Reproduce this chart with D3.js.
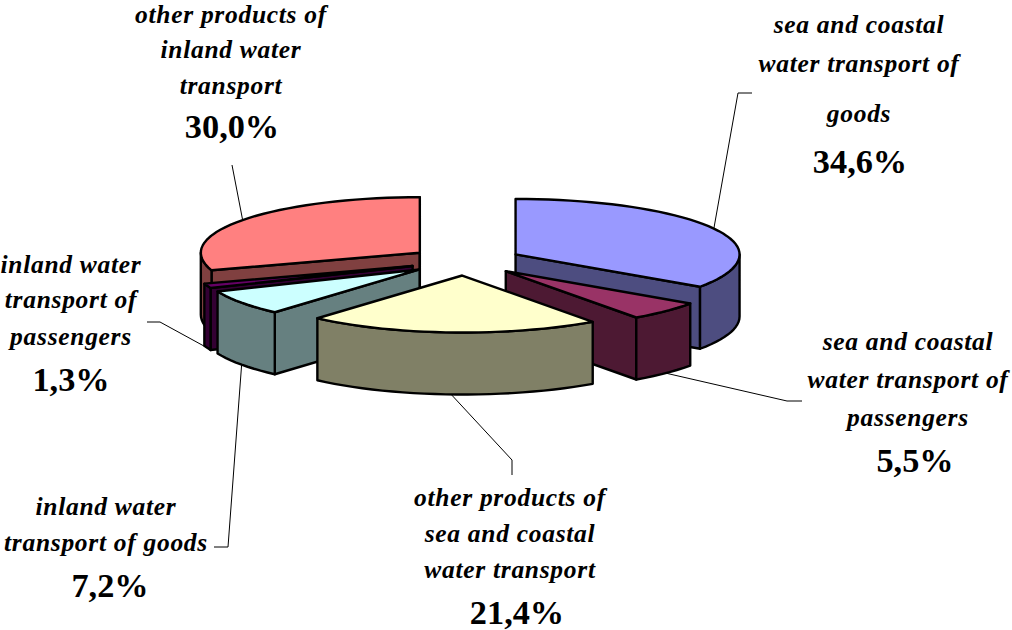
<!DOCTYPE html>
<html><head><meta charset="utf-8">
<script src="https://cdn.jsdelivr.net/npm/d3@7"></script>
<style>html,body{margin:0;padding:0;background:#fff}svg{display:block}
text{font-family:"Liberation Serif","Times New Roman",serif;fill:#000;text-anchor:middle}
.n{font-weight:700;font-style:italic;font-size:25.5px;letter-spacing:.7px}.p{font-weight:700;font-size:34.3px}</style>
</head><body><svg width="1012" height="630"></svg>
<script>
// data, in pie order (clockwise from 12 o'clock)
const categories = ["sea and coastal water transport of goods","sea and coastal water transport of passengers","other products of sea and coastal water transport","inland water transport of goods","inland water transport of passengers","other products of inland water transport"];
const values = [34.6,5.5,21.4,7.2,1.3,30.0];
const valueLabels = ["34,6%","5,5%","21,4%","7,2%","1,3%","30,0%"];
const nameLines = [["sea and coastal","water transport of","goods"],["sea and coastal","water transport of","passengers"],["other products of","sea and coastal","water transport"],["inland water","transport of goods"],["inland water","transport of","passengers"],["other products of","inland water","transport"]];
const topColors = ["#9999FF","#993366","#FFFFCC","#CCFFFF","#660066","#FF8080"];
const sideColors = ["#4D4D80","#4D1933","#808066","#668080","#330033","#804040"];

// layout
const cx=465, cy=261, rxLeft=219, rxRight=224, ryBack=55.5, ryFront=57, depth=62, explode=0.255;
const nameX=[859,908,510,106,71,231];
const nameY=[[33,72,122],[350,388,426],[506,542,578],[515,551],[273,308,345],[23,58,94]];
const pctX=[860,915,517,110,71,232];
const pctY=[173,472,624,597,391,138];
const leaders=[[[738,93],[752,93]],[[787,401],[802,401]],[[512,460],[512,475]],[[228,547],[214,547]],[[160,322],[147,322]],[[232,165]]];

const svg=d3.select("svg");
const sx=d3.scaleLinear([-1,0,1],[-rxLeft,0,rxRight]), sy=d3.scaleLinear([-1,0,1],[-ryBack,0,ryFront]);
const proj=(a,r=1)=>{const p=d3.pointRadial(a,r);return [sx(p[0]),sy(p[1])];};
const pie=d3.pie().sort(null).value(d=>d);
const arcs=pie(values).map((d,i)=>{
  const mid=(d.startAngle+d.endAngle)/2, o=proj(mid,explode);
  return {i,a0:d.startAngle,a1:d.endAngle,mid,ox:cx+o[0],oy:cy+o[1]};
});
const line=d3.line();
function rim(s,a0,a1,dy=0){
  const n=Math.max(2,Math.ceil((a1-a0)/0.05));
  return d3.range(n+1).map(k=>{const a=a0+(a1-a0)*k/n,p=proj(a);return [s.ox+p[0],s.oy+p[1]+dy];});
}
const draw=(g,pts,fill)=>g.append("path").attr("d",line(pts)+"Z").attr("fill",fill).attr("stroke","#000").attr("stroke-width",2.4).attr("stroke-linejoin","round");

// leader lines go underneath the pie
const lg=svg.append("g");
arcs.forEach((s,i)=>{
  const p=proj(s.mid), front=Math.cos(s.mid)<0;
  const start=[s.ox+p[0],s.oy+p[1]+(front?depth:0)];
  lg.append("path").attr("d",line([start,...leaders[i]])).attr("fill","none").attr("stroke","#000").attr("stroke-width",1);
});

// painter's order: back to front
const order=[5,0,4,1,3,2];
order.forEach(i=>{
  const s=arcs[i], g=svg.append("g");
  const m=proj(s.mid,0.5);
  [s.a0,s.a1].forEach(a=>{
    const p=proj(a);
    const cross=(ux,uy)=>p[0]*uy-p[1]*ux;
    const visible=cross(m[0],m[1])*cross(0,1)<0;
    if(!visible) return;
    draw(g,[[s.ox,s.oy],[s.ox+p[0],s.oy+p[1]],[s.ox+p[0],s.oy+p[1]+depth],[s.ox,s.oy+depth]],sideColors[i]);
  });
  const b0=Math.max(s.a0,Math.PI/2), b1=Math.min(s.a1,Math.PI*1.5);
  if(b1>b0){
    const top=rim(s,b0,b1), bot=rim(s,b0,b1,depth).reverse();
    draw(g,[...top,...bot],sideColors[i]);
  }
  draw(g,[[s.ox,s.oy],...rim(s,s.a0,s.a1)],topColors[i]);
});

nameLines.forEach((ls,i)=>{
  ls.forEach((t,k)=>svg.append("text").attr("class","n").attr("x",nameX[i]).attr("y",nameY[i][k]).text(t));
  svg.append("text").attr("class","p").attr("x",pctX[i]).attr("y",pctY[i]).text(valueLabels[i]);
});
</script></body></html>
